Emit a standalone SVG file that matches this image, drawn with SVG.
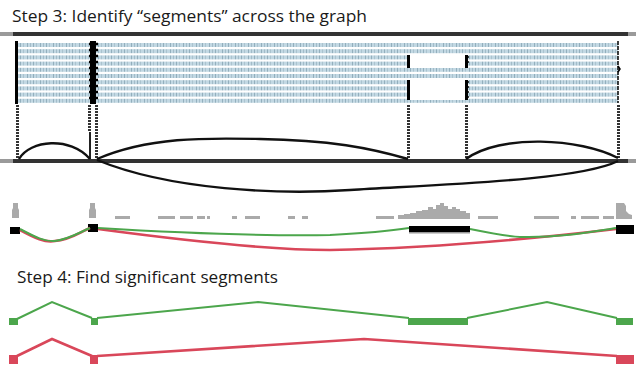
<svg xmlns="http://www.w3.org/2000/svg" width="636" height="388" viewBox="0 0 636 388">
<defs>
<pattern id="readpat" x="0" y="0" width="13" height="4" patternUnits="userSpaceOnUse">
<rect width="13" height="4" fill="#c2d8e3"/>
<rect x="1" width="1" height="4" fill="#93afbd"/>
<rect x="4" width="1" height="4" fill="#a3bcc9"/>
<rect x="7" width="1" height="4" fill="#93afbd"/>
<rect x="10" width="1" height="4" fill="#abc3cf"/>
</pattern>
<pattern id="dashv" x="0" y="0" width="4" height="3" patternUnits="userSpaceOnUse">
<rect width="4" height="2" fill="#333"/>
</pattern>
</defs>
<style>
.title{font-family:"Open Sans","Liberation Sans",Arial,sans-serif;font-size:16px;fill:#1a1a1a}
.bar{fill:#333}
.barend{fill:#9a9a9a}
.arc{fill:none;stroke:#111;stroke-width:2.4}
.cov{fill:#aaaaaa}
.exon{fill:#000}
.g{fill:none;stroke:#4ca64c;stroke-width:2}
.r{fill:none;stroke:#d9475a;stroke-width:2.6}
.gf{fill:#4ca64c}
.rf{fill:#d9475a}
</style>

<g id="step3-title">
<text class="title" x="12" y="22" textLength="355" lengthAdjust="spacingAndGlyphs">Step 3: Identify “segments” across the graph</text>
</g>

<g id="genome-tracks">
<rect class="barend" x="0" y="32" width="13" height="4"/>
<rect class="bar" x="13" y="32" width="615" height="4"/>
<rect class="barend" x="628" y="32" width="8" height="4"/>
<rect class="barend" x="0" y="159" width="13" height="4"/>
<rect class="bar" x="13" y="159" width="615" height="4"/>
<rect class="barend" x="628" y="159" width="8" height="4"/>
</g>

<g id="reads">
<rect x="18" y="43" width="600" height="4" fill="url(#readpat)"/>
<rect x="18" y="49.2" width="600" height="4" fill="url(#readpat)"/>
<rect x="18" y="55.4" width="600" height="4" fill="url(#readpat)"/>
<rect x="18" y="61.6" width="600" height="4" fill="url(#readpat)"/>
<rect x="18" y="67.8" width="600" height="4" fill="url(#readpat)"/>
<rect x="18" y="74" width="600" height="4" fill="url(#readpat)"/>
<rect x="18" y="80.2" width="600" height="4" fill="url(#readpat)"/>
<rect x="18" y="86.4" width="600" height="4" fill="url(#readpat)"/>
<rect x="18" y="92.6" width="600" height="4" fill="url(#readpat)"/>
<rect x="18" y="98.8" width="600" height="4" fill="url(#readpat)"/>
<rect x="410" y="55" width="56" height="13" fill="#fff"/>
<rect x="410" y="80" width="56" height="20" fill="#fff"/>
<rect x="15" y="41" width="3" height="63" fill="#000"/>
<rect x="90" y="41" width="6" height="63" fill="#000"/>
<path d="M89 44h9M89 50h9M89 56h9M89 62h9M89 68h9M89 74h9M89 80h9M89 86h9M89 92h9M89 98h9" stroke="#000" stroke-width="2.5"/>
<rect x="407" y="55" width="3" height="13" fill="#000"/>
<rect x="407" y="80" width="3" height="20" fill="#000"/>
<rect x="465" y="55" width="3" height="13" fill="#000"/>
<rect x="465" y="80" width="3" height="20" fill="#000"/>
<path d="M466 57h3M466 62h3M466 82h3M466 87h3M466 92h3M466 97h3" stroke="#000" stroke-width="1.5"/>
<path d="M618 41 v62" stroke="#000" stroke-width="1.5" stroke-dasharray="4 1"/>
<path d="M618 66 l2 3 -2 3" fill="none" stroke="#000" stroke-width="1.5"/>
</g>

<g id="junction-guides">
<rect x="16" y="104" width="3" height="55" fill="url(#dashv)"/>
<rect x="88" y="104" width="3" height="28" fill="url(#dashv)"/>
<rect x="89" y="132" width="2" height="27" fill="#222"/>
<rect x="95" y="104" width="3" height="55" fill="url(#dashv)"/>
<rect x="407" y="104" width="3" height="55" fill="url(#dashv)"/>
<rect x="465" y="104" width="3" height="55" fill="url(#dashv)"/>
<rect x="617" y="104" width="3" height="55" fill="url(#dashv)"/>
</g>

<g id="arcs">
<path class="arc" d="M19 159 C30 140 70 136 90 159"/>
<path class="arc" d="M97 159 C150 136 210 138 260 139 C330 140 370 148 408 159"/>
<path class="arc" d="M466 159 C500 134 580 138 618 158"/>
<path class="arc" d="M97 160 C170 190 280 195 350 190 C450 184 580 180 618 161"/>
</g>

<g id="coverage">
<path class="cov" d="M12 218 V210 L13 208 V203 H18 V208 L19 210 V218 Z"/>
<path class="cov" d="M89 218 V210 L90 208 V203 H95 V208 L96 210 V218 Z"/>
<path class="cov" d="M115 216h15v3h-15zM158 216h17v3h-17zM180 216h13v3h-13zM197 216h8v3h-8zM207 216h3v3h-3zM232 216h5v3h-5zM245 216h15v3h-15zM288 216h7v3h-7zM302 216h6v3h-6z"/>
<path class="cov" d="M376 216h18v3h-18zM478 216h20v3h-20zM534 216h25v3h-25zM571 216h5v3h-5zM581 216h18v3h-18zM603 216h11v3h-11z"/>
<path class="cov" d="M398 219 V215 H404 V214 H410 V213 H416 V211 H422 V210 H428 V207 H433 V209 H436 V205 H440 V203 H444 V206 H448 V209 H452 V207 H456 V209 H460 V211 H466 V213 H470 V219 Z"/>
<path class="cov" d="M616 219 V203 H624 L626 206 V211 L629 214 L632 215 V219 Z"/>
</g>

<g id="exons">
<rect class="exon" x="10" y="227" width="10" height="7"/>
<rect class="exon" x="88" y="224" width="10" height="8"/>
<rect class="exon" x="409" y="226" width="61" height="6"/>
<rect x="409" y="232" width="61" height="1.5" fill="#999"/>
<rect class="exon" x="616" y="225" width="18" height="9"/>
</g>

<g id="paths">
<path class="r" d="M20 230 C35 238 45 243 55 241 C70 240 80 232 90 228 M98 229 C180 240 270 250 330 250 C440 248 540 238 616 229"/>
<path class="g" d="M20 229 C35 237 45 242 55 241 C70 239 80 232 90 228 M98 228 C180 233 260 236 330 235 C370 233 390 231 409 228 M470 229 C490 233 510 237 520 237 C560 238 590 232 616 228"/>
</g>

<g id="step4-title">
<text class="title" x="17" y="283" textLength="261" lengthAdjust="spacingAndGlyphs">Step 4: Find significant segments</text>
</g>

<g id="green-segments">
<rect class="gf" x="9" y="318" width="9" height="7"/>
<rect class="gf" x="91" y="318" width="7" height="7"/>
<rect class="gf" x="408" y="318" width="60" height="7"/>
<rect class="gf" x="616" y="318" width="17" height="7"/>
<path class="g" d="M17 319 L52 302 L92 318 M97 318 L258 302 L409 318 M467 318 L547 302 L617 318"/>
</g>

<g id="red-segments">
<rect class="rf" x="9" y="355" width="9" height="9"/>
<rect class="rf" x="90" y="355" width="8" height="9"/>
<rect class="rf" x="616" y="355" width="18" height="9"/>
<path class="r" d="M17 356 L52 339 L92 356 M97 356 L364 339 L617 356"/>
</g>
</svg>
